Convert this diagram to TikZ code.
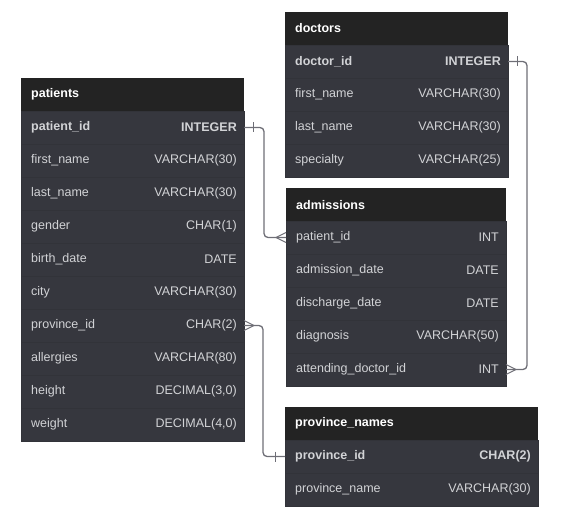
\documentclass[tikz,border=0pt]{standalone}
\usepackage{fontspec}
\setmainfont{Liberation Sans}
\usepackage{tikz}
\usepackage{color}

\definecolor{headgray}{HTML}{232323}
\definecolor{bodygray}{HTML}{36373E}
\definecolor{sepgray}{HTML}{323339}
\definecolor{textgray}{HTML}{D2D3D6}
\definecolor{linkgray}{HTML}{6E6E76}

\tikzset{
  hdr/.style={fill=headgray, minimum height=33pt, inner sep=0pt, outer sep=0pt},
  row/.style={fill=bodygray, draw=sepgray, line width=0.6pt, minimum height=33pt, inner sep=0pt, outer sep=0pt},
  title/.style={anchor=west, text=white, font=\fontsize{12.5}{14}\selectfont\bfseries, inner sep=0pt, xshift=10pt},
  fld/.style={anchor=west, text=textgray, font=\fontsize{12.5}{14}\selectfont, inner sep=0pt, xshift=10pt},
  typ/.style={anchor=east, text=textgray, font=\fontsize{12.5}{14}\selectfont, inner sep=0pt, xshift=-7pt},
  keyf/.style={fld, font=\fontsize{12.5}{14}\selectfont\bfseries},
  keyt/.style={typ, font=\fontsize{12.5}{14}\selectfont\bfseries},
  link/.style={draw=linkgray, line width=1.3pt, rounded corners=4pt},
  foot/.style={draw=linkgray, line width=1pt},
}

\begin{document}
\begin{tikzpicture}[x=1pt,y=-1pt]
\useasboundingbox (0,0) rectangle (574,532);

%% patients
\node[hdr, minimum width=223pt] (pat) at (132.5,94.5) {};
\node[title] at (pat.west) {patients};
\node[row, minimum width=223pt] (pat1) at (132.5,127.5) {};
\node[keyf] at (pat1.west) {patient\_id};
\node[keyt] at (pat1.east) {INTEGER};
\node[row, minimum width=223pt] (pat2) at (132.5,160.5) {};
\node[fld] at (pat2.west) {first\_name};
\node[typ] at (pat2.east) {VARCHAR(30)};
\node[row, minimum width=223pt] (pat3) at (132.5,193.5) {};
\node[fld] at (pat3.west) {last\_name};
\node[typ] at (pat3.east) {VARCHAR(30)};
\node[row, minimum width=223pt] (pat4) at (132.5,226.5) {};
\node[fld] at (pat4.west) {gender};
\node[typ] at (pat4.east) {CHAR(1)};
\node[row, minimum width=223pt] (pat5) at (132.5,259.5) {};
\node[fld] at (pat5.west) {birth\_date};
\node[typ] at (pat5.east) {DATE};
\node[row, minimum width=223pt] (pat6) at (132.5,292.5) {};
\node[fld] at (pat6.west) {city};
\node[typ] at (pat6.east) {VARCHAR(30)};
\node[row, minimum width=223pt] (pat7) at (132.5,325.5) {};
\node[fld] at (pat7.west) {province\_id};
\node[typ] at (pat7.east) {CHAR(2)};
\node[row, minimum width=223pt] (pat8) at (132.5,358.5) {};
\node[fld] at (pat8.west) {allergies};
\node[typ] at (pat8.east) {VARCHAR(80)};
\node[row, minimum width=223pt] (pat9) at (132.5,391.5) {};
\node[fld] at (pat9.west) {height};
\node[typ] at (pat9.east) {DECIMAL(3,0)};
\node[row, minimum width=223pt] (pat10) at (132.5,424.5) {};
\node[fld] at (pat10.west) {weight};
\node[typ] at (pat10.east) {DECIMAL(4,0)};

%% doctors
\node[hdr, minimum width=223pt] (doc) at (396.5,28.5) {};
\node[title] at (doc.west) {doctors};
\node[row, minimum width=223pt] (doc1) at (396.5,61.5) {};
\node[keyf] at (doc1.west) {doctor\_id};
\node[keyt] at (doc1.east) {INTEGER};
\node[row, minimum width=223pt] (doc2) at (396.5,94.5) {};
\node[fld] at (doc2.west) {first\_name};
\node[typ] at (doc2.east) {VARCHAR(30)};
\node[row, minimum width=223pt] (doc3) at (396.5,127.5) {};
\node[fld] at (doc3.west) {last\_name};
\node[typ] at (doc3.east) {VARCHAR(30)};
\node[row, minimum width=223pt] (doc4) at (396.5,160.5) {};
\node[fld] at (doc4.west) {specialty};
\node[typ] at (doc4.east) {VARCHAR(25)};

%% admissions
\node[hdr, minimum width=220pt] (adm) at (396,205) {};
\node[title] at (adm.west) {admissions};
\node[row, minimum width=220pt] (adm1) at (396,237.5) {};
\node[fld] at (adm1.west) {patient\_id};
\node[typ] at (adm1.east) {INT};
\node[row, minimum width=220pt] (adm2) at (396,270.5) {};
\node[fld] at (adm2.west) {admission\_date};
\node[typ] at (adm2.east) {DATE};
\node[row, minimum width=220pt] (adm3) at (396,303.5) {};
\node[fld] at (adm3.west) {discharge\_date};
\node[typ] at (adm3.east) {DATE};
\node[row, minimum width=220pt] (adm4) at (396,336.5) {};
\node[fld] at (adm4.west) {diagnosis};
\node[typ] at (adm4.east) {VARCHAR(50)};
\node[row, minimum width=220pt] (adm5) at (396,369.5) {};
\node[fld] at (adm5.west) {attending\_doctor\_id};
\node[typ] at (adm5.east) {INT};

%% province_names
\node[hdr, minimum width=253pt] (prv) at (411.5,423.5) {};
\node[title] at (prv.west) {province\_names};
\node[row, minimum width=253pt] (prv1) at (411.5,456.5) {};
\node[keyf] at (prv1.west) {province\_id};
\node[keyt] at (prv1.east) {CHAR(2)};
\node[row, minimum width=253pt] (prv2) at (411.5,489.5) {};
\node[fld] at (prv2.west) {province\_name};
\node[typ] at (prv2.east) {VARCHAR(30)};

%% links
\draw[link] (pat1.east) -- ++(20,0) |- (adm1.west);
\draw[foot] ([xshift=9pt,yshift=5pt]pat1.east) -- ([xshift=9pt,yshift=-5pt]pat1.east);
\draw[foot] ([xshift=-10pt]adm1.west) -- ([yshift=5pt]adm1.west);
\draw[foot] ([xshift=-10pt]adm1.west) -- ([yshift=-5pt]adm1.west);

\draw[link] (doc1.east) -- ++(19,0) |- (adm5.east);
\draw[foot] ([xshift=9pt,yshift=5pt]doc1.east) -- ([xshift=9pt,yshift=-5pt]doc1.east);
\draw[foot] ([xshift=10pt]adm5.east) -- ([yshift=5pt]adm5.east);
\draw[foot] ([xshift=10pt]adm5.east) -- ([yshift=-5pt]adm5.east);

\draw[link] (pat7.east) -- ++(19,0) |- (prv1.west);
\draw[foot] ([xshift=10pt]pat7.east) -- ([yshift=5pt]pat7.east);
\draw[foot] ([xshift=10pt]pat7.east) -- ([yshift=-5pt]pat7.east);
\draw[foot] ([xshift=-10pt,yshift=5pt]prv1.west) -- ([xshift=-10pt,yshift=-5pt]prv1.west);

\end{tikzpicture}
\end{document}
